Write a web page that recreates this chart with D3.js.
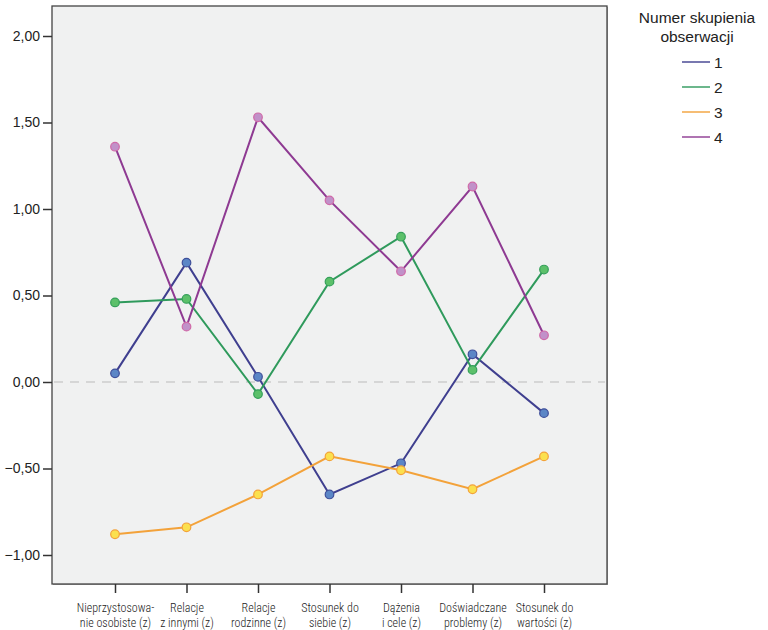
<!DOCTYPE html>
<html><head><meta charset="utf-8">
<script src="https://cdn.jsdelivr.net/npm/d3@7"></script>
<style>body{margin:0;background:#fff}svg{display:block}</style>
</head><body>
<svg id="c" width="768" height="630"></svg>
<script>
const categories = [
  ["Nieprzystosowa-","nie osobiste (z)"],
  ["Relacje","z innymi (z)"],
  ["Relacje","rodzinne (z)"],
  ["Stosunek do","siebie (z)"],
  ["Dążenia","i cele (z)"],
  ["Doświadczane","problemy (z)"],
  ["Stosunek do","wartości (z)"]
];
const seriesNames = ["1","2","3","4"];
const series1 = [0.05, 0.69, 0.03, -0.65, -0.47, 0.16, -0.18];
const series2 = [0.46, 0.48, -0.07, 0.58, 0.84, 0.07, 0.65];
const series3 = [-0.88, -0.84, -0.65, -0.43, -0.51, -0.62, -0.43];
const series4 = [1.36, 0.32, 1.53, 1.05, 0.64, 1.13, 0.27];
const yTicks = [-1, -0.5, 0, 0.5, 1, 1.5, 2];
const legendTitle = ["Numer skupienia","obserwacji"];

const styles = [
  {line:"#3f3f8f", fill:"#5b86c6", stroke:"#3f4f9a"},
  {line:"#2f9a5c", fill:"#5cc06a", stroke:"#35a05a"},
  {line:"#f3a23a", fill:"#fbe04e", stroke:"#f3a23a"},
  {line:"#8e3a92", fill:"#c191c9", stroke:"#d06aa8"}
];
const allSeries = [series1, series2, series3, series4];

const svg = d3.select("#c");
const L = 52, R = 607, T = 6, B = 584;
const x = d3.scalePoint().domain(d3.range(categories.length)).range([115, 544]);
const y = d3.scaleLinear().domain([0, 1]).range([382, 209]);

svg.append("rect").attr("x", L+1).attr("y", T+1).attr("width", R-L).attr("height", B-T).attr("fill", "#aaa");
svg.append("rect").attr("x", L).attr("y", T).attr("width", R-L).attr("height", B-T).attr("fill", "#f0f1f1").attr("stroke", "#444").attr("stroke-width", 1.3);

svg.append("line").attr("x1", L+2).attr("x2", R-2).attr("y1", y(0)).attr("y2", y(0))
  .attr("stroke", "#bbbbbb").attr("stroke-width", 1).attr("stroke-dasharray", "9,7");

const yAxis = svg.append("g").attr("transform", `translate(${L},0)`)
  .call(d3.axisLeft(y).tickValues(yTicks).tickSize(9).tickPadding(3)
    .tickFormat(d => d3.format(".2f")(d).replace(".", ",")));
yAxis.select(".domain").remove();
yAxis.selectAll("line").attr("stroke", "#333").attr("stroke-width", 1.5);
yAxis.selectAll("text").attr("font-family", "Liberation Sans, Arial, sans-serif").attr("font-size", 14).attr("fill", "#222");

const xAxis = svg.append("g").attr("transform", `translate(0,${B})`)
  .call(d3.axisBottom(x).tickSize(9).tickFormat(""));
xAxis.select(".domain").remove();
xAxis.selectAll("line").attr("stroke", "#333").attr("stroke-width", 1.5);
xAxis.selectAll(".tick").each(function(d) {
  const t = d3.select(this).append("text").attr("text-anchor", "middle")
    .attr("font-family", "Liberation Sans Narrow, Roboto Condensed, Arial Narrow, sans-serif")
    .attr("font-size", 12).attr("font-weight", 300).attr("fill", "#222");
  categories[d].forEach((s, i) => t.append("tspan").attr("x", 0).attr("y", 28 + i*15).text(s));
});

const line = d3.line().x((d, i) => x(i)).y(d => y(d));
allSeries.forEach((s, k) => {
  svg.append("path").datum(s).attr("d", line).attr("fill", "none")
    .attr("stroke", styles[k].line).attr("stroke-width", 2);
});
allSeries.forEach((s, k) => {
  svg.append("g").selectAll("circle").data(s).join("circle")
    .attr("cx", (d, i) => x(i)).attr("cy", d => y(d)).attr("r", 4.3)
    .attr("fill", styles[k].fill).attr("stroke", styles[k].stroke).attr("stroke-width", 1.2);
});

const lg = svg.append("g").attr("font-family", "Liberation Sans, Arial, sans-serif").attr("font-size", 15.5).attr("fill", "#222");
legendTitle.forEach((s, i) => lg.append("text").attr("x", 697).attr("y", 23 + i*19).attr("text-anchor", "middle").text(s));
seriesNames.forEach((n, k) => {
  const yy = 62 + k*25;
  lg.append("line").attr("x1", 682).attr("x2", 710).attr("y1", yy).attr("y2", yy)
    .attr("stroke", styles[k].line).attr("stroke-width", 2).attr("opacity", 0.7);
  lg.append("text").attr("x", 714).attr("y", yy + 6).text(n);
});
</script>
</body></html>
